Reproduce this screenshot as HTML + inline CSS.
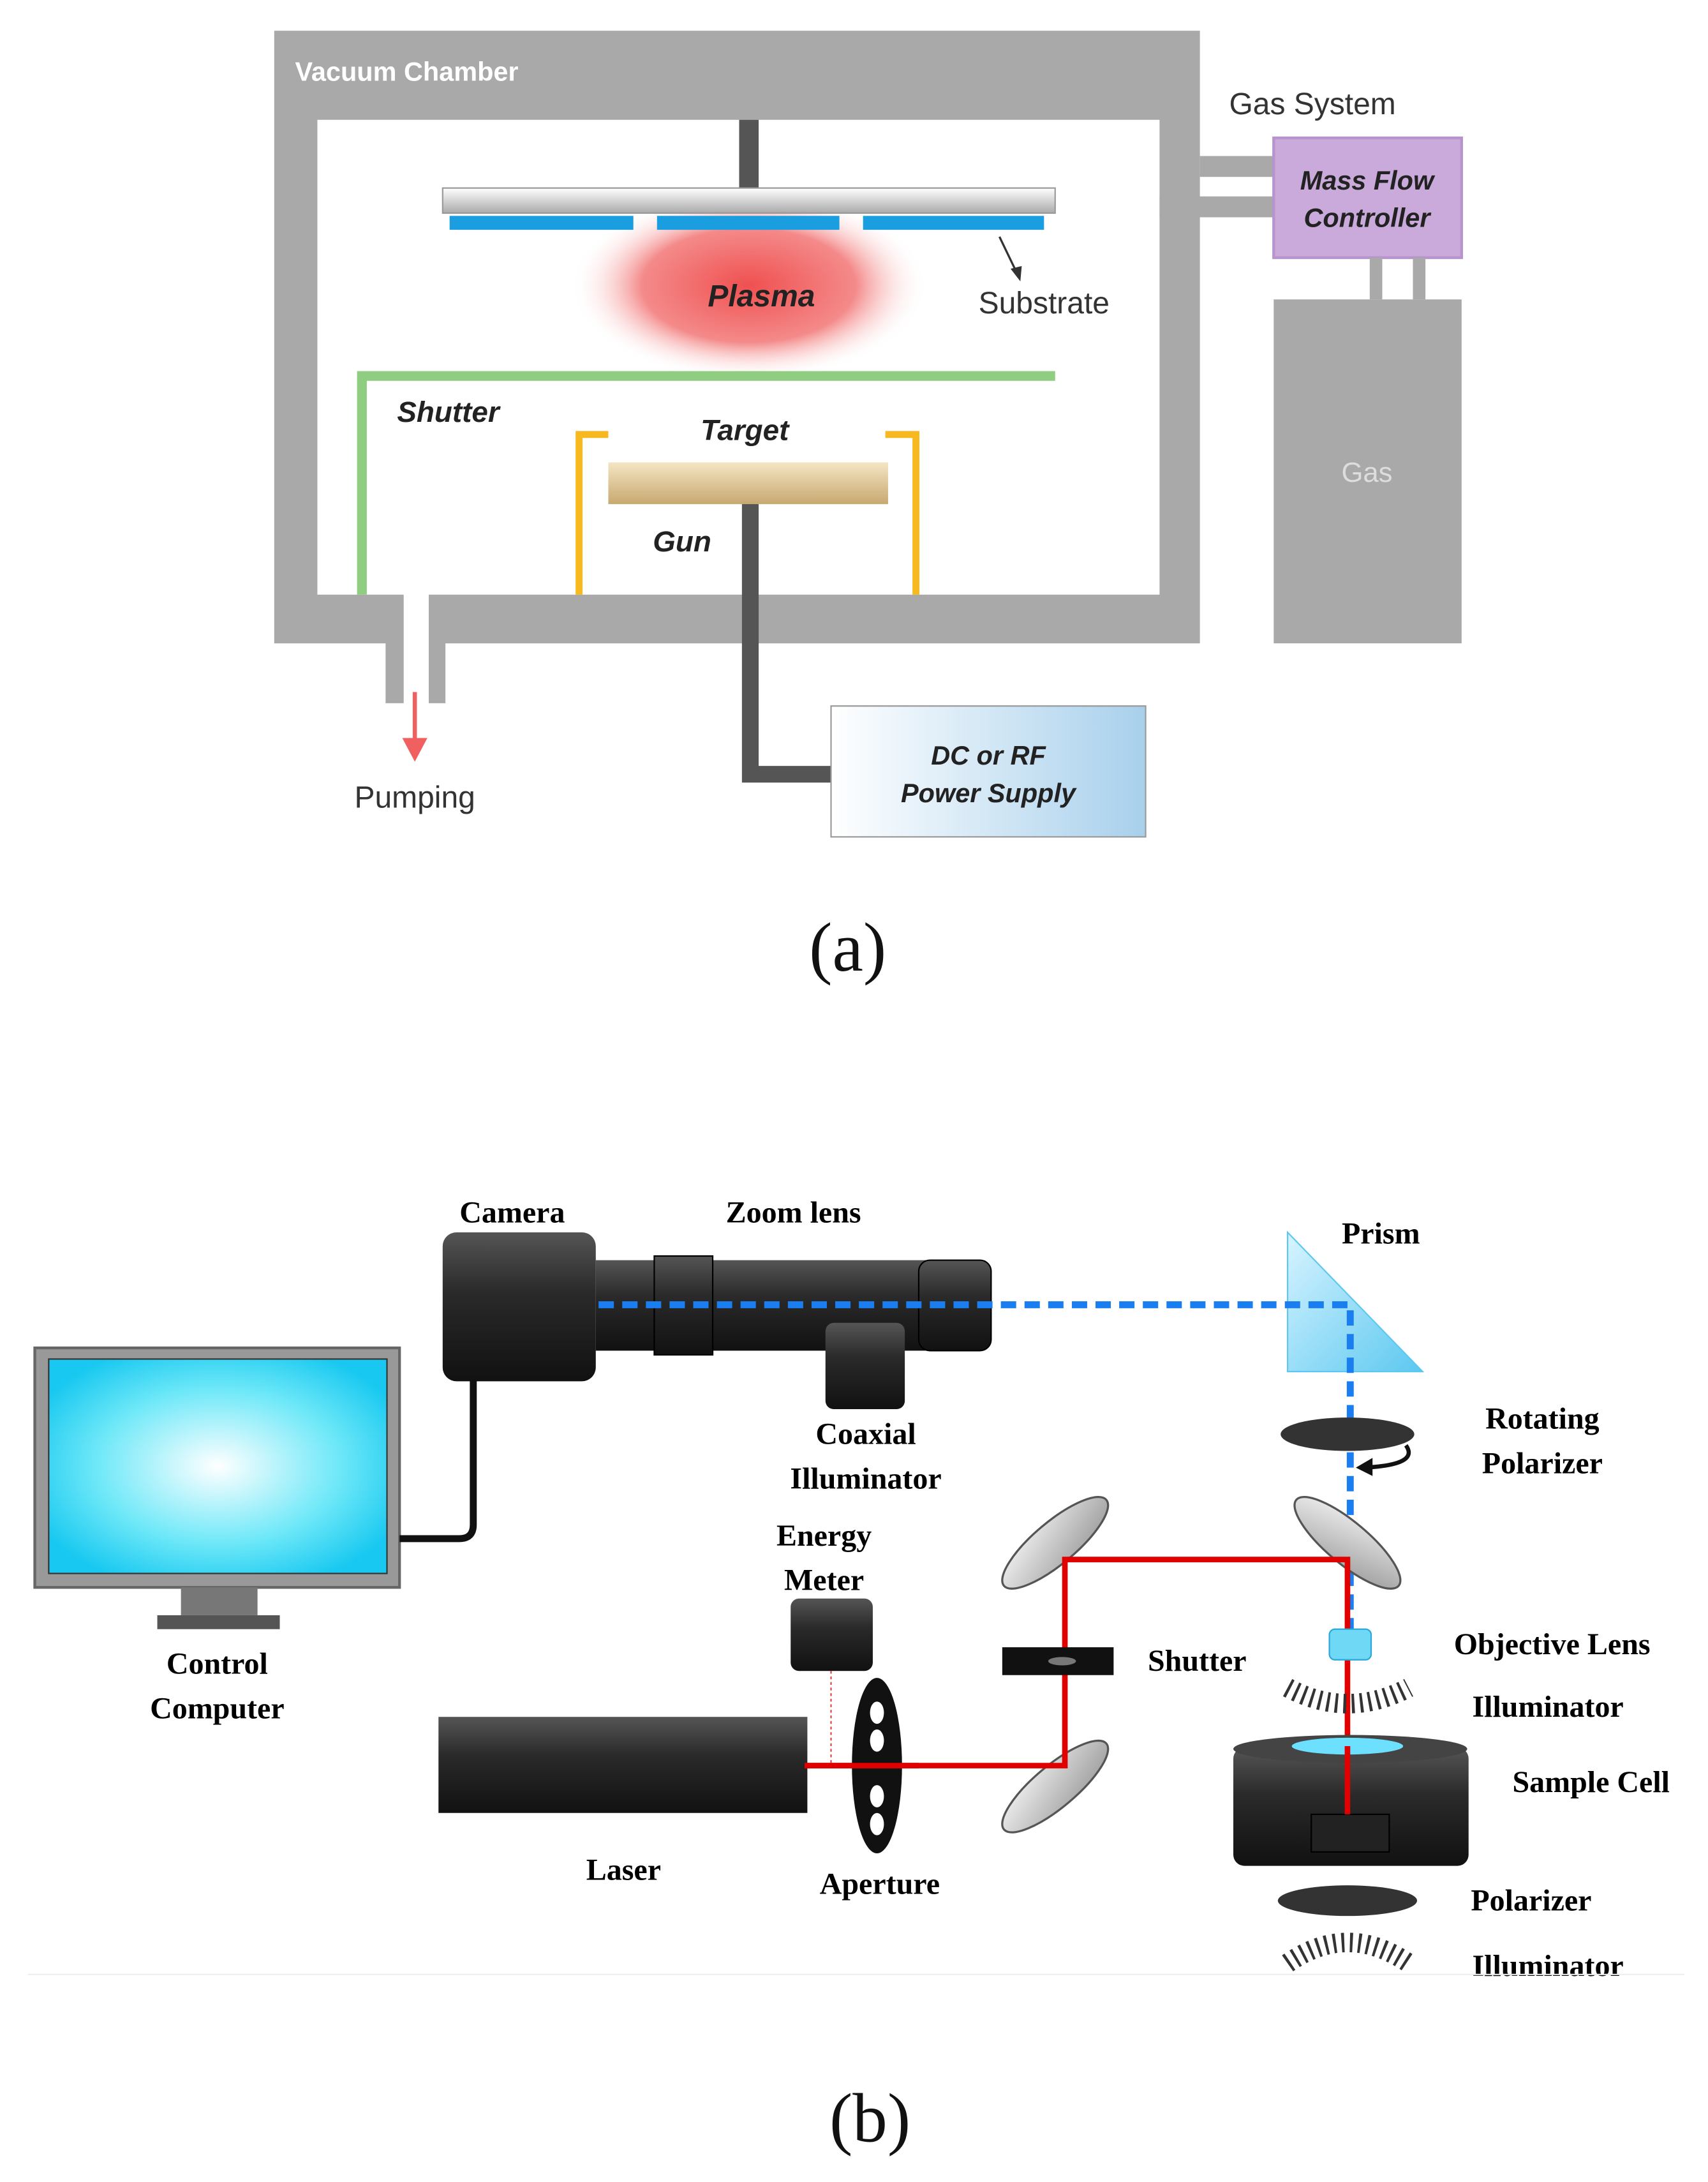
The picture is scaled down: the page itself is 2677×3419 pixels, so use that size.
<!DOCTYPE html>
<html><head><meta charset="utf-8"><style>
html,body{margin:0;padding:0;background:#fff;}
svg{display:block;}
.s{font-family:"Liberation Sans","DejaVu Sans",sans-serif;}
.r{font-family:"Liberation Serif",serif;font-weight:bold;}
</style></head><body>
<svg width="2677" height="3419" viewBox="0 0 1227 1567" xmlns="http://www.w3.org/2000/svg">
<defs>
<radialGradient id="pl" cx="50%" cy="50%" r="50%"><stop offset="0" stop-color="#f05050"/><stop offset="0.6" stop-color="#f48a8a"/><stop offset="1" stop-color="#fff" stop-opacity="0"/></radialGradient>
<linearGradient id="sub" x1="0" y1="0" x2="0" y2="1"><stop offset="0" stop-color="#fff"/><stop offset="1" stop-color="#aaa"/></linearGradient>
<linearGradient id="tg" x1="0" y1="0" x2="0" y2="1"><stop offset="0" stop-color="#f4e6c4"/><stop offset="1" stop-color="#c8a870"/></linearGradient>
<linearGradient id="ps" x1="0" y1="0" x2="1" y2="0"><stop offset="0" stop-color="#fff"/><stop offset="1" stop-color="#a8d0ec"/></linearGradient>
<radialGradient id="scr" cx="50%" cy="50%" r="60%"><stop offset="0" stop-color="#fff"/><stop offset="0.6" stop-color="#6ee8f8"/><stop offset="1" stop-color="#18c8f0"/></radialGradient>
<linearGradient id="dk" x1="0" y1="0" x2="0" y2="1"><stop offset="0" stop-color="#555"/><stop offset="0.4" stop-color="#2a2a2a"/><stop offset="1" stop-color="#111"/></linearGradient>
<linearGradient id="mr" x1="0" y1="0" x2="1" y2="1"><stop offset="0" stop-color="#f4f4f4"/><stop offset="1" stop-color="#999"/></linearGradient>
<linearGradient id="pr" x1="0" y1="0" x2="1" y2="1"><stop offset="0" stop-color="#d8f4ff"/><stop offset="1" stop-color="#5cc8f0"/></linearGradient>
</defs>

<!-- (a) chamber -->
<path d="M197,22H862V462H320V505H308V427H833V86H228V427H290V505H277V462H197Z" fill="#a9a9a9"/>
<text x="212" y="58" class="s" font-size="19" font-weight="bold" fill="#fff">Vacuum Chamber</text>
<rect x="862" y="112" width="53" height="15" fill="#a9a9a9"/>
<rect x="833" y="141" width="82" height="15" fill="#a9a9a9"/>
<rect x="915" y="99" width="135" height="86" fill="#c9aada" stroke="#b894cc" stroke-width="2"/>
<text x="982" y="136" class="s" font-size="19" font-style="italic" font-weight="bold" text-anchor="middle" fill="#222">Mass Flow</text>
<text x="982" y="163" class="s" font-size="19" font-style="italic" font-weight="bold" text-anchor="middle" fill="#222">Controller</text>
<text x="883" y="82" class="s" font-size="22" fill="#333">Gas System</text>
<rect x="984" y="185" width="9" height="30" fill="#a9a9a9"/><rect x="1015" y="185" width="9" height="30" fill="#a9a9a9"/>
<rect x="915" y="215" width="135" height="247" fill="#a9a9a9"/>
<text x="982" y="346" class="s" font-size="20" fill="#ddd" text-anchor="middle">Gas</text>

<ellipse cx="538" cy="205" rx="128" ry="68" fill="url(#pl)"/>
<rect x="531" y="86" width="14" height="50" fill="#555"/>
<rect x="318" y="135" width="440" height="18" fill="url(#sub)" stroke="#999"/>
<rect x="323" y="155" width="132" height="10" fill="#1a9ee0"/>
<rect x="472" y="155" width="131" height="10" fill="#1a9ee0"/>
<rect x="620" y="155" width="130" height="10" fill="#1a9ee0"/>
<text x="547" y="220" class="s" font-size="22" font-style="italic" font-weight="bold" text-anchor="middle" fill="#222">Plasma</text>
<line x1="718" y1="170" x2="731" y2="197" stroke="#333" stroke-width="1.5"/>
<path d="M733,202L726,193L734,191Z" fill="#333"/>
<text x="750" y="225" class="s" font-size="22" text-anchor="middle" fill="#333">Substrate</text>
<path d="M260,427V270H758" fill="none" stroke="#8fce80" stroke-width="7"/>
<text x="322" y="303" class="s" font-size="21" font-style="italic" font-weight="bold" text-anchor="middle" fill="#222">Shutter</text>
<path d="M437,312H416V427M636,312H658V427" fill="none" stroke="#f8b820" stroke-width="5"/>
<text x="535" y="316" class="s" font-size="21" font-style="italic" font-weight="bold" text-anchor="middle" fill="#222">Target</text>
<rect x="437" y="332" width="201" height="30" fill="url(#tg)"/>
<text x="490" y="396" class="s" font-size="21" font-style="italic" font-weight="bold" text-anchor="middle" fill="#222">Gun</text>
<path d="M539,362V556H597" fill="none" stroke="#555" stroke-width="12"/>
<rect x="597" y="507" width="226" height="94" fill="url(#ps)" stroke="#999"/>
<text x="710" y="549" class="s" font-size="19" font-style="italic" font-weight="bold" text-anchor="middle" fill="#222">DC or RF</text>
<text x="710" y="576" class="s" font-size="19" font-style="italic" font-weight="bold" text-anchor="middle" fill="#222">Power Supply</text>
<line x1="298" y1="497" x2="298" y2="532" stroke="#f06060" stroke-width="3"/>
<path d="M289,530L307,530L298,547Z" fill="#f06060"/>
<text x="298" y="580" class="s" font-size="22" text-anchor="middle" fill="#333">Pumping</text>
<text x="609" y="697" font-family="Liberation Serif,serif" font-size="50" text-anchor="middle" fill="#111">(a)</text>

<!-- (b) -->
<rect x="25" y="968" width="262" height="172" fill="#999" stroke="#666" stroke-width="2"/>
<rect x="35" y="976" width="243" height="154" fill="url(#scr)" stroke="#333"/>
<rect x="130" y="1140" width="55" height="20" fill="#777"/>
<rect x="113" y="1160" width="88" height="10" fill="#555"/>
<path d="M287,1105H330Q340,1105 340,1095V990" fill="none" stroke="#111" stroke-width="5"/>
<text x="156" y="1202" class="r" font-size="22" text-anchor="middle">Control</text>
<text x="156" y="1234" class="r" font-size="22" text-anchor="middle">Computer</text>

<rect x="318" y="885" width="110" height="107" rx="10" fill="url(#dk)"/>
<rect x="428" y="905" width="240" height="65" fill="url(#dk)"/>
<rect x="470" y="902" width="42" height="71" fill="url(#dk)" stroke="#000"/>
<rect x="660" y="905" width="52" height="65" rx="8" fill="url(#dk)" stroke="#000"/>
<rect x="593" y="950" width="57" height="62" rx="6" fill="url(#dk)"/>
<text x="368" y="878" class="r" font-size="22" text-anchor="middle">Camera</text>
<text x="570" y="878" class="r" font-size="22" text-anchor="middle">Zoom lens</text>
<text x="622" y="1037" class="r" font-size="22" text-anchor="middle">Coaxial</text>
<text x="622" y="1069" class="r" font-size="22" text-anchor="middle">Illuminator</text>

<path d="M925,885L925,985L1022,985Z" fill="url(#pr)" stroke="#5cc8f0"/>
<text x="992" y="893" class="r" font-size="22" text-anchor="middle">Prism</text>
<path d="M430,937H970V1180" fill="none" stroke="#1a7ef0" stroke-width="5" stroke-dasharray="11,6"/>

<ellipse cx="968" cy="1030" rx="48" ry="12" fill="#333"/>
<path d="M1010,1038Q1020,1052 980,1054" fill="none" stroke="#111" stroke-width="3"/>
<path d="M974,1054L986,1047L986,1060Z" fill="#111"/>
<text x="1108" y="1026" class="r" font-size="22" text-anchor="middle">Rotating</text>
<text x="1108" y="1058" class="r" font-size="22" text-anchor="middle">Polarizer</text>

<g fill="url(#mr)" stroke="#555" stroke-width="1.5">
<ellipse cx="758" cy="1108" rx="48" ry="15" transform="rotate(-40 758 1108)"/>
<ellipse cx="968" cy="1108" rx="48" ry="15" transform="rotate(40 968 1108)"/>
<ellipse cx="758" cy="1283" rx="48" ry="15" transform="rotate(-40 758 1283)"/>
</g>
<path d="M578,1268H765V1120H968V1320" fill="none" stroke="#e00000" stroke-width="4"/>
<rect x="720" y="1183" width="80" height="20" fill="#111"/>
<ellipse cx="763" cy="1193" rx="10" ry="3" fill="#777"/>
<text x="860" y="1200" class="r" font-size="22" text-anchor="middle">Shutter</text>
<rect x="568" y="1148" width="59" height="52" rx="6" fill="url(#dk)"/>
<line x1="597" y1="1200" x2="597" y2="1268" stroke="#e04040" stroke-dasharray="2,2"/>
<text x="592" y="1110" class="r" font-size="22" text-anchor="middle">Energy</text>
<text x="592" y="1142" class="r" font-size="22" text-anchor="middle">Meter</text>
<rect x="315" y="1233" width="265" height="69" fill="url(#dk)"/>
<text x="448" y="1350" class="r" font-size="22" text-anchor="middle">Laser</text>
<ellipse cx="630" cy="1268" rx="18" ry="63" fill="#111"/>
<g fill="#fff"><ellipse cx="630" cy="1230" rx="5" ry="8"/><ellipse cx="630" cy="1250" rx="5" ry="8"/><ellipse cx="630" cy="1290" rx="5" ry="8"/><ellipse cx="630" cy="1310" rx="5" ry="8"/></g>
<path d="M578,1268H660" stroke="#e00000" stroke-width="4"/>
<text x="632" y="1360" class="r" font-size="22" text-anchor="middle">Aperture</text>

<rect x="955" y="1170" width="30" height="22" rx="4" fill="#6fd8f4" stroke="#2aa8d8"/>
<text x="1115" y="1188" class="r" font-size="22" text-anchor="middle">Objective Lens</text>
<path d="M925,1212Q968,1235 1012,1212" fill="none" stroke="#333" stroke-width="14" stroke-dasharray="2,4"/>
<text x="1112" y="1233" class="r" font-size="22" text-anchor="middle">Illuminator</text>
<rect x="886" y="1255" width="169" height="85" rx="8" fill="url(#dk)"/>
<ellipse cx="970" cy="1256" rx="84" ry="10" fill="#444"/>
<ellipse cx="968" cy="1254" rx="40" ry="6" fill="#6ee0ff"/>
<rect x="942" y="1303" width="56" height="27" fill="#222" stroke="#000"/>
<line x1="968" y1="1254" x2="968" y2="1303" stroke="#e00000" stroke-width="4"/>
<text x="1143" y="1287" class="r" font-size="22" text-anchor="middle">Sample Cell</text>
<ellipse cx="968" cy="1365" rx="50" ry="11" fill="#333"/>
<text x="1100" y="1372" class="r" font-size="22" text-anchor="middle">Polarizer</text>
<path d="M925,1410Q968,1380 1012,1410" fill="none" stroke="#333" stroke-width="14" stroke-dasharray="2,4"/>
<text x="1112" y="1419" class="r" font-size="22" text-anchor="middle">Illuminator</text>
<line x1="20" y1="1418" x2="1210" y2="1418" stroke="#eee"/>
<text x="625" y="1538" font-family="Liberation Serif,serif" font-size="50" text-anchor="middle" fill="#111">(b)</text>
</svg>
</body></html>
